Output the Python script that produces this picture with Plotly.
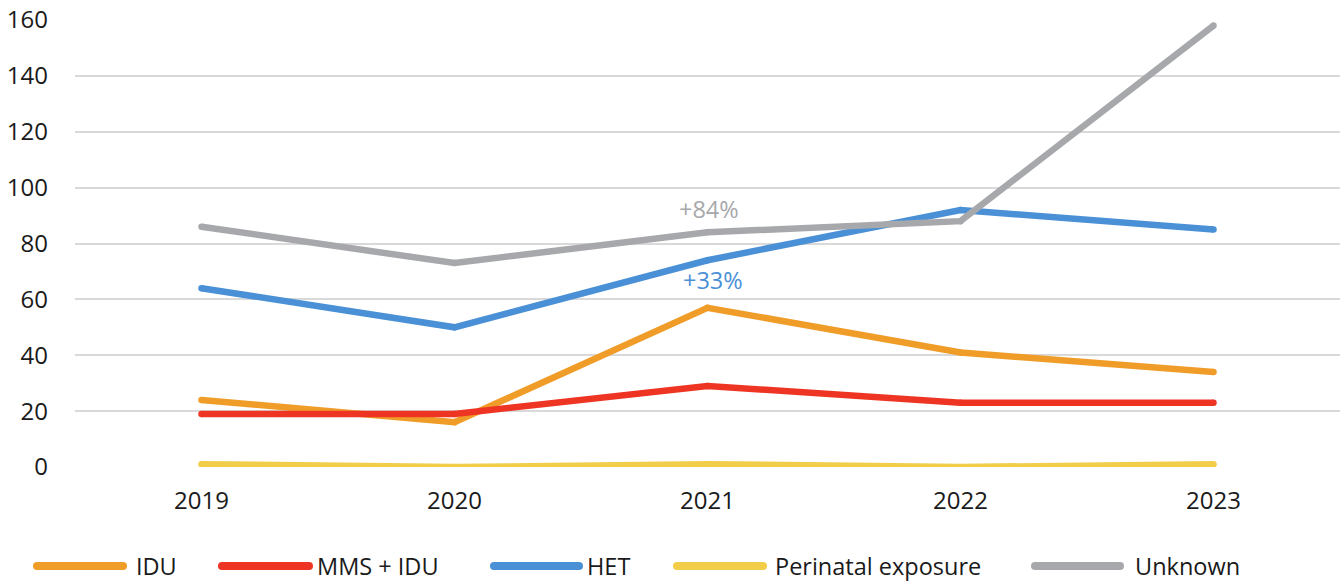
import plotly.graph_objects as go

years = ["2019", "2020", "2021", "2022", "2023"]
series_names = ["IDU", "MMS + IDU", "HET", "Perinatal exposure", "Unknown"]
idu = [24, 16, 57, 41, 34]
mms_idu = [19, 19, 29, 23, 23]
het = [64, 50, 74, 92, 85]
perinatal = [1, 0, 1, 0, 1]
unknown = [86, 73, 84, 88, 158]
y_ticks = [0, 20, 40, 60, 80, 100, 120, 140, 160]
change_labels = ["+84%", "+33%"]

colors = ["#F09C28", "#EE3524", "#4A90D6", "#F2CD4A", "#A7A8AB"]
all_values = [idu, mms_idu, het, perinatal, unknown]

W, H = 1340, 582
L, R, T, B = 75, 0, 20, 115
pw, ph = W - L - R, H - T - B
FONT = "Open Sans"


def px_x(px):
    return (px - L) / pw


def px_y(py):
    return (H - B - py) / ph


fig = go.Figure()

for name, vals, col in zip(series_names, all_values, colors):
    fig.add_trace(go.Scatter(
        x=years, y=vals, name=name, mode="lines+markers",
        line=dict(color=col, width=6.5),
        marker=dict(color=col, size=6.5, line=dict(width=0)),
        hoverinfo="x+y+name",
    ))

# growth labels around 2021 (category index 2)
idx_2021 = years.index("2021")
fig.add_annotation(x=idx_2021, y=92.2, text=change_labels[0], showarrow=False,
                   xshift=1, font=dict(family=FONT, size=23.5, color="#A7A8AB"))
fig.add_annotation(x=idx_2021, y=67.0, text=change_labels[1], showarrow=False,
                   xshift=5, font=dict(family=FONT, size=23.5, color="#4A90D6"))

# custom legend with long line samples
legend_pos = [(33, 127, 134), (218, 313, 315), (490, 583, 585), (673, 767, 773), (1031, 1124, 1133)]
ly_px = 566
ly = px_y(ly_px)
r = 4
shapes = []
for (x0, x1, xt), name, col in zip(legend_pos, series_names, colors):
    shapes.append(dict(type="line", xref="paper", yref="paper",
                       x0=px_x(x0 + r), x1=px_x(x1 - r), y0=ly, y1=ly,
                       line=dict(color=col, width=2 * r)))
    for cx in (x0 + r, x1 - r):
        shapes.append(dict(type="circle", xref="paper", yref="paper",
                           x0=px_x(cx - r), x1=px_x(cx + r),
                           y0=px_y(ly_px + r), y1=px_y(ly_px - r),
                           fillcolor=col, line=dict(width=0)))
    fig.add_annotation(xref="paper", yref="paper", x=px_x(xt), y=ly,
                       xanchor="left", yanchor="middle", showarrow=False,
                       text=name, font=dict(family=FONT, size=23.5, color="#1A1A1A"))

fig.update_layout(
    width=W, height=H,
    margin=dict(l=L, r=R, t=T, b=B),
    paper_bgcolor="white", plot_bgcolor="white",
    showlegend=False,
    shapes=shapes,
    font=dict(family=FONT, size=24, color="#1A1A1A"),
    xaxis=dict(
        type="category", range=[-0.5, 4.5],
        showgrid=False, zeroline=False, showline=False,
        ticks="", ticklabelstandoff=17,
        tickfont=dict(family=FONT, size=24, color="#1A1A1A"),
    ),
    yaxis=dict(
        range=[0, 160], tickvals=y_ticks,
        showgrid=True, gridcolor="#D9D9D9", gridwidth=2,
        zeroline=False, showline=False,
        ticks="", ticklabelstandoff=26,
        tickfont=dict(family=FONT, size=24, color="#1A1A1A"),
    ),
)

fig.write_html("out.html", config={"displayModeBar": False},
               post_script="document.body.style.margin='0';")
